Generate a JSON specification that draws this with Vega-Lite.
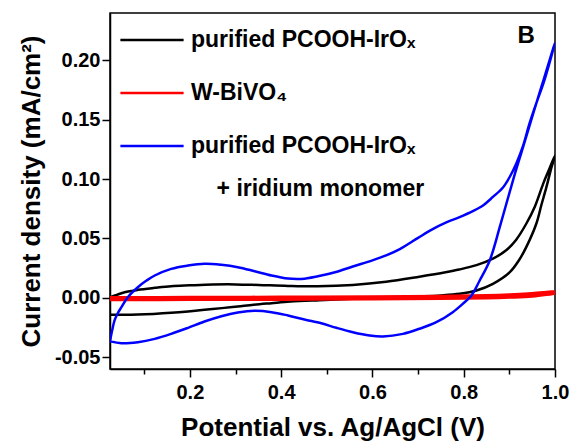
{
  "$schema": "https://vega.github.io/schema/vega-lite/v6.json",
  "width": 445,
  "height": 356,
  "autosize": {"type": "none"},
  "padding": {"left": 110, "top": 13, "right": 14, "bottom": 76},
  "background": "white",
  "config": {
    "font": "Liberation Sans",
    "view": {"stroke": "black", "strokeWidth": 1.5}
  },
  "layer": [
    {
      "data": {
        "values": [
          {"s":"pure","i":0,"E":0.025,"J":0.0005},
          {"s":"pure","i":1,"E":0.04,"J":0.0025},
          {"s":"pure","i":2,"E":0.057,"J":0.0047},
          {"s":"pure","i":3,"E":0.086,"J":0.0067},
          {"s":"pure","i":4,"E":0.123,"J":0.0084},
          {"s":"pure","i":5,"E":0.159,"J":0.0098},
          {"s":"pure","i":6,"E":0.2,"J":0.0105},
          {"s":"pure","i":7,"E":0.25,"J":0.0112},
          {"s":"pure","i":8,"E":0.3,"J":0.0113},
          {"s":"pure","i":9,"E":0.35,"J":0.0108},
          {"s":"pure","i":10,"E":0.415,"J":0.0100},
          {"s":"pure","i":11,"E":0.48,"J":0.0097},
          {"s":"pure","i":12,"E":0.557,"J":0.0108},
          {"s":"pure","i":13,"E":0.63,"J":0.0135},
          {"s":"pure","i":14,"E":0.703,"J":0.0178},
          {"s":"pure","i":15,"E":0.76,"J":0.0215},
          {"s":"pure","i":16,"E":0.79,"J":0.0238},
          {"s":"pure","i":17,"E":0.828,"J":0.0275},
          {"s":"pure","i":18,"E":0.864,"J":0.0330},
          {"s":"pure","i":19,"E":0.893,"J":0.0400},
          {"s":"pure","i":20,"E":0.915,"J":0.0490},
          {"s":"pure","i":21,"E":0.937,"J":0.0624},
          {"s":"pure","i":22,"E":0.956,"J":0.0770},
          {"s":"pure","i":23,"E":0.974,"J":0.0960},
          {"s":"pure","i":24,"E":0.988,"J":0.1090},
          {"s":"pure","i":25,"E":1.0,"J":0.1200},
          {"s":"pure","i":26,"E":0.991,"J":0.1080},
          {"s":"pure","i":27,"E":0.981,"J":0.0930},
          {"s":"pure","i":28,"E":0.970,"J":0.0780},
          {"s":"pure","i":29,"E":0.959,"J":0.0624},
          {"s":"pure","i":30,"E":0.937,"J":0.0427},
          {"s":"pure","i":31,"E":0.920,"J":0.0310},
          {"s":"pure","i":32,"E":0.901,"J":0.0216},
          {"s":"pure","i":33,"E":0.864,"J":0.0118},
          {"s":"pure","i":34,"E":0.828,"J":0.0062},
          {"s":"pure","i":35,"E":0.791,"J":0.0034},
          {"s":"pure","i":36,"E":0.75,"J":0.0020},
          {"s":"pure","i":37,"E":0.703,"J":0.0011},
          {"s":"pure","i":38,"E":0.63,"J":0.0},
          {"s":"pure","i":39,"E":0.557,"J":-0.0008},
          {"s":"pure","i":40,"E":0.484,"J":-0.0020},
          {"s":"pure","i":41,"E":0.42,"J":-0.0032},
          {"s":"pure","i":42,"E":0.379,"J":-0.0045},
          {"s":"pure","i":43,"E":0.34,"J":-0.0058},
          {"s":"pure","i":44,"E":0.305,"J":-0.0073},
          {"s":"pure","i":45,"E":0.27,"J":-0.0087},
          {"s":"pure","i":46,"E":0.232,"J":-0.0101},
          {"s":"pure","i":47,"E":0.196,"J":-0.0115},
          {"s":"pure","i":48,"E":0.159,"J":-0.0127},
          {"s":"pure","i":49,"E":0.12,"J":-0.0136},
          {"s":"pure","i":50,"E":0.086,"J":-0.0141},
          {"s":"pure","i":51,"E":0.05,"J":-0.0143},
          {"s":"pure","i":52,"E":0.025,"J":-0.0143},

          {"s":"bivo","i":0,"E":0.025,"J":-0.0004},
          {"s":"bivo","i":1,"E":0.2,"J":-0.0002},
          {"s":"bivo","i":2,"E":0.4,"J":0.0},
          {"s":"bivo","i":3,"E":0.6,"J":0.0003},
          {"s":"bivo","i":4,"E":0.75,"J":0.0006},
          {"s":"bivo","i":5,"E":0.85,"J":0.0013},
          {"s":"bivo","i":6,"E":0.9,"J":0.0020},
          {"s":"bivo","i":7,"E":0.95,"J":0.0031},
          {"s":"bivo","i":8,"E":1.0,"J":0.0045},
          {"s":"bivo","i":9,"E":0.95,"J":0.0020},
          {"s":"bivo","i":10,"E":0.9,"J":0.0010},
          {"s":"bivo","i":11,"E":0.85,"J":0.0004},
          {"s":"bivo","i":12,"E":0.75,"J":0.0},
          {"s":"bivo","i":13,"E":0.6,"J":-0.0004},
          {"s":"bivo","i":14,"E":0.4,"J":-0.0007},
          {"s":"bivo","i":15,"E":0.2,"J":-0.0009},
          {"s":"bivo","i":16,"E":0.025,"J":-0.0010},

          {"s":"mono","i":0,"E":0.025,"J":-0.0366},
          {"s":"mono","i":1,"E":0.030,"J":-0.027},
          {"s":"mono","i":2,"E":0.035,"J":-0.019},
          {"s":"mono","i":3,"E":0.042,"J":-0.013},
          {"s":"mono","i":4,"E":0.050,"J":-0.0079},
          {"s":"mono","i":5,"E":0.064,"J":0.0005},
          {"s":"mono","i":6,"E":0.086,"J":0.0089},
          {"s":"mono","i":7,"E":0.105,"J":0.0145},
          {"s":"mono","i":8,"E":0.123,"J":0.0188},
          {"s":"mono","i":9,"E":0.159,"J":0.0244},
          {"s":"mono","i":10,"E":0.196,"J":0.0272},
          {"s":"mono","i":11,"E":0.232,"J":0.0287},
          {"s":"mono","i":12,"E":0.269,"J":0.0278},
          {"s":"mono","i":13,"E":0.305,"J":0.0258},
          {"s":"mono","i":14,"E":0.342,"J":0.0224},
          {"s":"mono","i":15,"E":0.379,"J":0.0188},
          {"s":"mono","i":16,"E":0.415,"J":0.0162},
          {"s":"mono","i":17,"E":0.435,"J":0.0158},
          {"s":"mono","i":18,"E":0.451,"J":0.0161},
          {"s":"mono","i":19,"E":0.488,"J":0.0188},
          {"s":"mono","i":20,"E":0.520,"J":0.0218},
          {"s":"mono","i":21,"E":0.557,"J":0.0264},
          {"s":"mono","i":22,"E":0.600,"J":0.0315},
          {"s":"mono","i":23,"E":0.630,"J":0.0357},
          {"s":"mono","i":24,"E":0.660,"J":0.0410},
          {"s":"mono","i":25,"E":0.700,"J":0.0505},
          {"s":"mono","i":26,"E":0.730,"J":0.0575},
          {"s":"mono","i":27,"E":0.763,"J":0.0638},
          {"s":"mono","i":28,"E":0.791,"J":0.0680},
          {"s":"mono","i":29,"E":0.820,"J":0.0730},
          {"s":"mono","i":30,"E":0.843,"J":0.0780},
          {"s":"mono","i":31,"E":0.864,"J":0.0850},
          {"s":"mono","i":32,"E":0.886,"J":0.0930},
          {"s":"mono","i":33,"E":0.901,"J":0.1020},
          {"s":"mono","i":34,"E":0.915,"J":0.1130},
          {"s":"mono","i":35,"E":0.930,"J":0.1280},
          {"s":"mono","i":36,"E":0.944,"J":0.1467},
          {"s":"mono","i":37,"E":0.960,"J":0.1650},
          {"s":"mono","i":38,"E":0.974,"J":0.1800},
          {"s":"mono","i":39,"E":0.988,"J":0.1980},
          {"s":"mono","i":40,"E":1.0,"J":0.2150},
          {"s":"mono","i":41,"E":0.976,"J":0.1850},
          {"s":"mono","i":42,"E":0.952,"J":0.1550},
          {"s":"mono","i":43,"E":0.930,"J":0.1270},
          {"s":"mono","i":44,"E":0.908,"J":0.0990},
          {"s":"mono","i":45,"E":0.880,"J":0.0610},
          {"s":"mono","i":46,"E":0.857,"J":0.0315},
          {"s":"mono","i":47,"E":0.835,"J":0.0146},
          {"s":"mono","i":48,"E":0.817,"J":0.0020},
          {"s":"mono","i":49,"E":0.798,"J":-0.0051},
          {"s":"mono","i":50,"E":0.776,"J":-0.0121},
          {"s":"mono","i":51,"E":0.740,"J":-0.0206},
          {"s":"mono","i":52,"E":0.703,"J":-0.0261},
          {"s":"mono","i":53,"E":0.667,"J":-0.0304},
          {"s":"mono","i":54,"E":0.623,"J":-0.0326},
          {"s":"mono","i":55,"E":0.594,"J":-0.0318},
          {"s":"mono","i":56,"E":0.557,"J":-0.0290},
          {"s":"mono","i":57,"E":0.521,"J":-0.0253},
          {"s":"mono","i":58,"E":0.488,"J":-0.0215},
          {"s":"mono","i":59,"E":0.451,"J":-0.0183},
          {"s":"mono","i":60,"E":0.415,"J":-0.0149},
          {"s":"mono","i":61,"E":0.379,"J":-0.0121},
          {"s":"mono","i":62,"E":0.342,"J":-0.0110},
          {"s":"mono","i":63,"E":0.305,"J":-0.0124},
          {"s":"mono","i":64,"E":0.269,"J":-0.0155},
          {"s":"mono","i":65,"E":0.232,"J":-0.0200},
          {"s":"mono","i":66,"E":0.196,"J":-0.0253},
          {"s":"mono","i":67,"E":0.159,"J":-0.0304},
          {"s":"mono","i":68,"E":0.123,"J":-0.0346},
          {"s":"mono","i":69,"E":0.086,"J":-0.0374},
          {"s":"mono","i":70,"E":0.050,"J":-0.0383},
          {"s":"mono","i":71,"E":0.025,"J":-0.0366}
        ]
      },
      "mark": {"type": "line", "interpolate": "catmull-rom", "clip": true},
      "encoding": {
        "x": {
          "field": "E", "type": "quantitative",
          "scale": {"domain": [0.025, 1.0], "nice": false, "zero": false},
          "axis": {
            "values": [0.1, 0.2, 0.3, 0.4, 0.5, 0.6, 0.7, 0.8, 0.9, 1.0],
            "labelExpr": "round(datum.value*10)%2==1 ? '' : format(datum.value, '.1f')",
            "tickSize": {"condition": {"test": "round(datum.value*10)%2==1", "value": 5}, "value": 8},
            "title": "Potential vs. Ag/AgCl (V)",
            "titleFont": "Liberation Sans", "titleFontSize": 26, "titleFontWeight": "bold", "titleColor": "black",
            "titlePadding": 12,
            "labelFont": "Liberation Sans", "labelFontSize": 20, "labelFontWeight": "bold", "labelColor": "black",
            "labelPadding": 5, "labelFlush": false, "labelOverlap": false,
            "domainColor": "black", "domainWidth": 1.5, "tickColor": "black", "tickWidth": 1.5, "grid": false
          }
        },
        "y": {
          "field": "J", "type": "quantitative",
          "scale": {"domain": [-0.06, 0.24], "nice": false, "zero": false},
          "axis": {
            "values": [-0.05, -0.025, 0, 0.025, 0.05, 0.075, 0.1, 0.125, 0.15, 0.175, 0.2, 0.225],
            "labelExpr": "round(datum.value*40)%2!=0 ? '' : replace(format(datum.value, '.2f'), '\u2212', '-')",
            "tickSize": {"condition": {"test": "round(datum.value*40)%2!=0", "value": 5}, "value": 8},
            "title": "Current density (mA/cm²)",
            "titleFont": "Liberation Sans", "titleFontSize": 26, "titleFontWeight": "bold", "titleColor": "black",
            "titlePadding": 10,
            "labelFont": "Liberation Sans", "labelFontSize": 20, "labelFontWeight": "bold", "labelColor": "black",
            "labelPadding": 2, "labelFlush": false, "labelOverlap": false,
            "domainColor": "black", "domainWidth": 1.5, "tickColor": "black", "tickWidth": 1.5, "grid": false
          }
        },
        "color": {
          "field": "s", "type": "nominal",
          "scale": {"domain": ["pure", "bivo", "mono"], "range": ["#000000", "#ff0000", "#0000ff"]},
          "legend": {
            "orient": "none", "legendX": 9, "legendY": -6, "title": null,
            "symbolType": "stroke", "symbolSize": 4000, "symbolStrokeWidth": 2.5,
            "labelFont": "Liberation Sans", "labelFontWeight": "bold", "labelFontSize": 23, "labelColor": "black",
            "labelLimit": 500, "labelOffset": 6, "rowPadding": 8, "padding": 0,
            "labelExpr": "datum.value == 'pure' ? 'purified PCOOH-IrOₓ' : datum.value == 'bivo' ? 'W-BiVO₄' : ['purified PCOOH-IrOₓ', '\u200b\u00a0\u00a0\u00a0\u00a0+ iridium monomer']",
            "encode": {"labels": {"update": {"lineHeight": {"value": 43}}}}
          }
        },
        "strokeWidth": {"condition": {"test": "datum.s == 'bivo'", "value": 4.5}, "value": 2.5},
        "order": {"field": "i", "type": "quantitative"}
      }
    },
    {
      "data": {"values": [{"t": "B"}]},
      "mark": {"type": "text", "font": "Liberation Sans", "fontWeight": "bold", "fontSize": 24, "color": "black", "align": "center", "baseline": "middle"},
      "encoding": {
        "x": {"datum": 0.937, "type": "quantitative"},
        "y": {"datum": 0.221, "type": "quantitative"},
        "text": {"field": "t"}
      }
    }
  ]
}
